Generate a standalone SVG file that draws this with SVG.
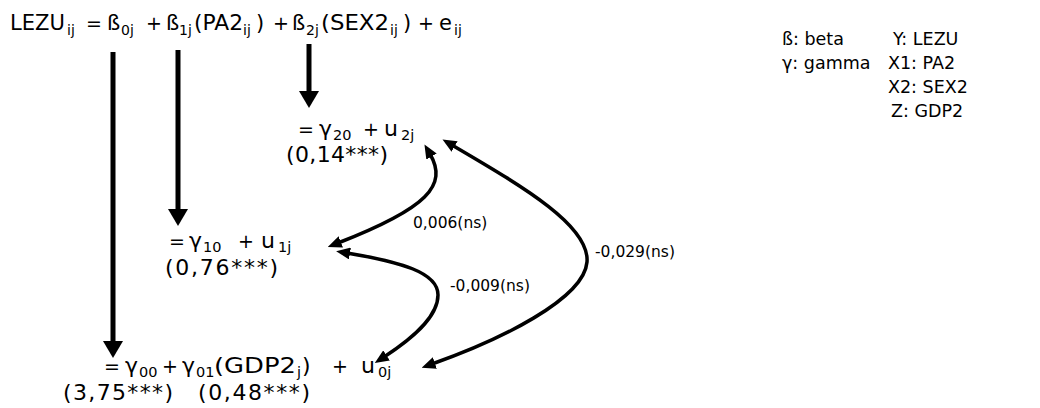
<svg xmlns="http://www.w3.org/2000/svg" width="1040" height="408" viewBox="0 0 1040 408">
<style>
text{font-family:"DejaVu Sans","Liberation Sans",Arial,sans-serif;fill:#000}
.t{font-size:21px}
.m{font-size:22px}
.o{font-size:19px}
.s{font-size:14px}
.ls{font-size:14.5px}
.lab{font-size:15.5px}
.leg{font-size:17.5px}
.v{stroke:#000;stroke-width:5;fill:none}
.c{stroke:#000;stroke-width:3.5;fill:none}
</style>
<defs>
<marker id="vh" markerUnits="userSpaceOnUse" viewBox="0 0 17 20" markerWidth="17" markerHeight="20" refX="0" refY="10" orient="auto"><path d="M0,0 L17,10 L0,20 Z" fill="#000"/></marker>
<marker id="ch" markerUnits="userSpaceOnUse" viewBox="0 0 14 12" markerWidth="14" markerHeight="12" refX="3" refY="6" orient="auto-start-reverse"><path d="M0,0 L14,6 L0,12 Z" fill="#000"/></marker>
</defs>
<rect width="1040" height="408" fill="#fff"/>
<g id="eq-top">
<text class="t"><tspan x="10" y="30" textLength="55" lengthAdjust="spacingAndGlyphs">LEZU</tspan><tspan class="s" x="67" y="35">ij</tspan><tspan class="o" x="86" y="30">=</tspan><tspan x="107" y="30">ß</tspan><tspan class="s" x="121" y="35">0j</tspan><tspan class="o" x="146" y="30">+</tspan><tspan x="166" y="30">ß</tspan><tspan class="s" x="179" y="35">1j</tspan><tspan x="194" y="30" textLength="49" lengthAdjust="spacingAndGlyphs">(PA2</tspan><tspan class="s" x="243" y="35">ij</tspan><tspan x="256" y="30">)</tspan><tspan class="o" x="273" y="30">+</tspan><tspan x="292" y="30">ß</tspan><tspan class="s" x="306" y="35">2j</tspan><tspan x="321" y="30" textLength="68" lengthAdjust="spacingAndGlyphs">(SEX2</tspan><tspan class="s" x="390" y="35">ij</tspan><tspan x="403" y="30">)</tspan><tspan class="o" x="418" y="30">+</tspan><tspan x="439" y="30">e</tspan><tspan class="s" x="454" y="35">ij</tspan></text>
</g>
<g id="level2">
<text class="m"><tspan class="o" x="298" y="136">=</tspan><tspan x="319" y="136">γ</tspan><tspan class="ls" x="333" y="140">20</tspan><tspan class="o" x="363" y="136">+</tspan><tspan x="384" y="136">u</tspan><tspan class="ls" x="401" y="140">2j</tspan></text>
<text class="m" x="286" y="162" textLength="102" lengthAdjust="spacing">(0,14***)</text>
</g>
<g id="level1">
<text class="m"><tspan class="o" x="169" y="248">=</tspan><tspan x="189" y="248">γ</tspan><tspan class="ls" x="203" y="252">10</tspan><tspan class="o" x="238" y="248">+</tspan><tspan x="261" y="248">u</tspan><tspan class="ls" x="278" y="252">1j</tspan></text>
<text class="m" x="165" y="275" textLength="113" lengthAdjust="spacing">(0,76***)</text>
</g>
<g id="level0">
<text class="m"><tspan class="o" x="104" y="373">=</tspan><tspan x="125" y="373">γ</tspan><tspan class="ls" x="139" y="377">00</tspan><tspan class="o" x="162" y="373">+</tspan><tspan x="182" y="373">γ</tspan><tspan class="ls" x="196" y="377">01</tspan><tspan x="214" y="373" textLength="82" lengthAdjust="spacingAndGlyphs">(GDP2</tspan><tspan class="ls" x="297" y="377">j</tspan><tspan x="302" y="373">)</tspan><tspan class="o" x="332" y="373">+</tspan><tspan x="361" y="373">u</tspan><tspan class="ls" x="378" y="377">0j</tspan></text>
<text class="m" x="63" y="400" textLength="110" lengthAdjust="spacing">(3,75***)</text>
<text class="m" x="198" y="400" textLength="112" lengthAdjust="spacing">(0,48***)</text>
</g>
<g id="legend">
<text class="leg" x="782" y="45">ß: beta</text>
<text class="leg" x="782" y="69">γ: gamma</text>
<text class="leg" x="893" y="45">Y: LEZU</text>
<text class="leg" x="888" y="69">X1: PA2</text>
<text class="leg" x="888" y="93">X2: SEX2</text>
<text class="leg" x="891" y="117">Z: GDP2</text>
</g>
<g id="connectors">
<line class="v" x1="113" y1="52" x2="113" y2="341" marker-end="url(#vh)"/>
<line class="v" x1="178" y1="50" x2="178" y2="209" marker-end="url(#vh)"/>
<line class="v" x1="309" y1="44" x2="309" y2="91" marker-end="url(#vh)"/>
<path class="c" d="M430,154 C448,185 428,208 338,243" marker-start="url(#ch)" marker-end="url(#ch)"/>
<path class="c" d="M452,145 C520,185 590,225 587,262 S500,340 432,364" marker-start="url(#ch)" marker-end="url(#ch)"/>
<path class="c" d="M347,253 C400,262 438,272 438,295 S410,340 384,357" marker-start="url(#ch)" marker-end="url(#ch)"/>
<text class="lab" x="413" y="228">0,006(ns)</text>
<text class="lab" x="450" y="291">-0,009(ns)</text>
<text class="lab" x="595" y="257">-0,029(ns)</text>
</g>
</svg>
